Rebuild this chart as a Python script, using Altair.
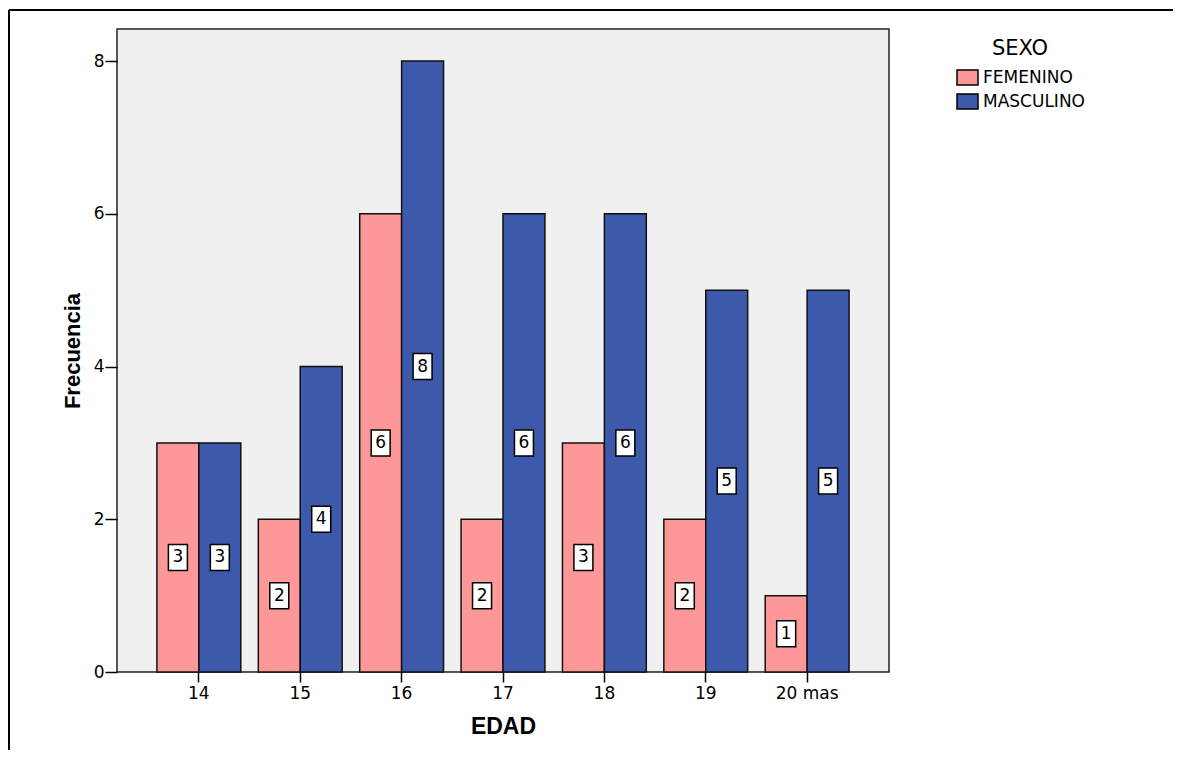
import altair as alt
import pandas as pd

edad = ["14", "15", "16", "17", "18", "19", "20 mas"]
femenino = [3, 2, 6, 2, 3, 2, 1]
masculino = [3, 4, 8, 6, 6, 5, 5]
sexo = ["FEMENINO", "MASCULINO"]
colores = ["#FE9898", "#3D59AB"]
y_ticks = [0, 2, 4, 6, 8]

rows = []
for e, f, m in zip(edad, femenino, masculino):
    rows.append({"EDAD": e, "SEXO": "FEMENINO", "n": f})
    rows.append({"EDAD": e, "SEXO": "MASCULINO", "n": m})
df = pd.DataFrame(rows)

W, H = 772, 643

x_enc = alt.X(
    "EDAD:N", sort=edad,
    scale=alt.Scale(paddingInner=0.173, paddingOuter=0.394),
    axis=alt.Axis(
        title="EDAD", labelAngle=0, labelFont="DejaVu Sans", labelFontSize=17,
        labelColor="black", tickSize=10, tickWidth=1.5, tickColor="black",
        labelPadding=3, domain=False, grid=False,
        titleFont="Liberation Sans", titleFontSize=23, titleFontWeight="bold",
        titleColor="black", titleX=W / 2, titleY=54, titleBaseline="middle",
        titleAlign="center",
    ),
)
xo_enc = alt.XOffset("SEXO:N", sort=sexo, scale=alt.Scale(paddingInner=0, paddingOuter=0))
y_axis = alt.Axis(
    title="Frecuencia", values=y_ticks, labelFont="DejaVu Sans", labelFontSize=17,
    labelColor="black", tickSize=12, tickWidth=1.5, tickColor="black",
    labelPadding=1, domain=False, grid=False,
    titleFont="Liberation Sans", titleFontSize=22, titleFontWeight="bold",
    titleColor="black", titleX=-45, titleY=H / 2, titleBaseline="middle",
    titleAlign="center", titleAngle=270,
)
y_scale = alt.Scale(domain=[0, 8.42], nice=False, zero=True)

base = alt.Chart(df)

bars = base.mark_bar(stroke="#111", strokeWidth=1.5).encode(
    x=x_enc,
    xOffset=xo_enc,
    y=alt.Y("n:Q", scale=y_scale, axis=y_axis),
    color=alt.Color(
        "SEXO:N", scale=alt.Scale(domain=sexo, range=colores),
        legend=alt.Legend(
            title="SEXO", orient="none", legendX=839, legendY=9,
            titleFont="DejaVu Sans", titleFontSize=21, titleFontWeight="normal",
            titleColor="black", titleAnchor="middle", titleAlign="center",
            titlePadding=7, labelFont="DejaVu Sans", labelFontSize=17,
            labelColor="black", labelOffset=4, rowPadding=1, padding=0,
            symbolType="M-1,-0.72L1,-0.72L1,0.72L-1,0.72Z", symbolSize=441,
            symbolStrokeColor="black", symbolStrokeWidth=1.5, symbolOpacity=1,
        ),
    ),
)

label_box = base.transform_calculate(mid="datum.n / 2").mark_point(
    shape="M-0.73,-1L0.73,-1L0.73,1L-0.73,1Z", size=676, filled=True,
    fill="white", stroke="black", strokeWidth=1.5, opacity=1,
).encode(
    x=x_enc, xOffset=xo_enc,
    y=alt.Y("mid:Q", scale=y_scale, axis=y_axis),
)

label_text = base.transform_calculate(mid="datum.n / 2").mark_text(
    font="DejaVu Sans", fontSize=17, color="black", align="center", baseline="middle",
).encode(
    x=x_enc, xOffset=xo_enc,
    y=alt.Y("mid:Q", scale=y_scale, axis=y_axis),
    text="n:Q",
)

one = alt.Data(values=[{"k": 1}])
frame_top = alt.Chart(one).mark_rule(color="black", strokeWidth=2).encode(
    x=alt.value(-108), x2=alt.value(1064), y=alt.value(-19)
)
frame_left = alt.Chart(one).mark_rule(color="black", strokeWidth=2).encode(
    x=alt.value(-108), y=alt.value(-19), y2=alt.value(729)
)

chart = alt.layer(bars, label_box, label_text, frame_top, frame_left).properties(
    width=W, height=H,
    autosize=alt.AutoSizeParams(type="none"),
    padding={"left": 109, "top": 21, "right": 284, "bottom": 78},
    background="white",
).configure_view(
    stroke="#222", strokeWidth=1.5, fill="#F0F0F0"
)

chart.save("out.html", embed_options={"renderer": "svg", "actions": False})
